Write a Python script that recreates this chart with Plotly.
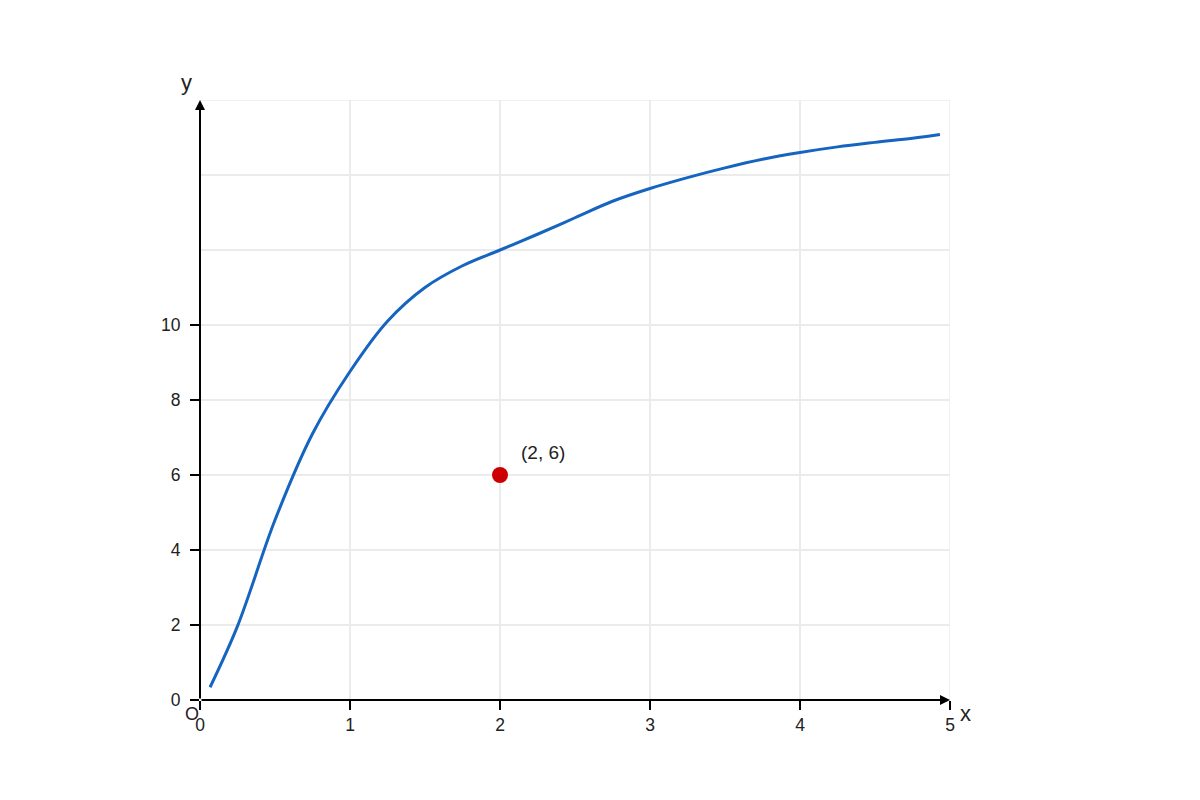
import plotly.graph_objects as go

# curve
curve_x = [0.067, 0.25, 0.5, 0.75, 1.0, 1.25, 1.5, 1.75, 2.0, 2.25, 2.5,
           2.75, 3.0, 3.25, 3.5, 3.75, 4.0, 4.25, 4.5, 4.75, 4.933]
curve_y = [0.34, 1.97, 4.8, 7.1, 8.76, 10.1, 11.0, 11.58, 12.0, 12.42, 12.86,
           13.3, 13.64, 13.93, 14.19, 14.42, 14.6, 14.75, 14.87, 14.98, 15.08]

# highlighted point
point_x = [2]
point_y = [6]
point_label = "(2, 6)"

x_ticks = [0, 1, 2, 3, 4, 5]
y_ticks = [0, 2, 4, 6, 8, 10]
y_extra_grid = [12, 14, 16]

fig = go.Figure()

fig.add_trace(go.Scatter(
    x=curve_x, y=curve_y, mode="lines",
    line=dict(color="#1565c0", width=3, shape="spline", smoothing=1.0),
    hoverinfo="skip", showlegend=False,
))

fig.add_trace(go.Scatter(
    x=point_x, y=point_y, mode="markers",
    marker=dict(color="#cc0000", size=16),
    showlegend=False,
))

grid = "#ebebeb"
# the page adds an 8px body margin, so the plot area is pulled up/left by 8px
fig.update_layout(
    width=1200, height=800,
    margin=dict(l=192, r=258, t=92, b=108),
    plot_bgcolor="white", paper_bgcolor="white",
    font=dict(family="Liberation Sans, Arial, sans-serif", size=17, color="#222"),
    xaxis=dict(
        range=[0, 5], tickvals=x_ticks, showgrid=True, gridcolor=grid, gridwidth=1.5,
        zeroline=False, showline=False, ticks="outside", ticklen=9, tickwidth=2,
        tickcolor="black", tickfont=dict(size=17.5),
    ),
    yaxis=dict(
        range=[0, 16], tickvals=y_ticks, showgrid=True, gridcolor=grid, gridwidth=1.5,
        zeroline=False, showline=False, ticks="outside", ticklen=9, tickwidth=2,
        tickcolor="black", tickfont=dict(size=17.5), ticklabelstandoff=6,
        minor=dict(tickvals=y_extra_grid, showgrid=True, gridcolor=grid, gridwidth=1.5, ticks=""),
    ),
)

# light frame around the plot area
fig.add_shape(type="rect", xref="x", yref="y", x0=0, x1=5, y0=0, y1=16,
              line=dict(color=grid, width=1.5), layer="below")

# axis arrows
fig.add_annotation(x=5, y=0, ax=0, ay=0, xref="x", yref="y", axref="x", ayref="y",
                   showarrow=True, arrowhead=2, arrowsize=1, arrowwidth=2,
                   arrowcolor="black", text="")
fig.add_annotation(x=0, y=16, ax=0, ay=0, xref="x", yref="y", axref="x", ayref="y",
                   showarrow=True, arrowhead=2, arrowsize=1, arrowwidth=2,
                   arrowcolor="black", text="")

# axis names and origin
fig.add_annotation(x=5, y=0, xref="x", yref="y", text="x", showarrow=False,
                   xshift=15, yshift=-13, font=dict(size=22, color="#222"))
fig.add_annotation(x=0, y=16, xref="x", yref="y", text="y", showarrow=False,
                   xshift=-14, yshift=18, font=dict(size=22, color="#222"))
fig.add_annotation(x=0, y=0, xref="x", yref="y", text="O", showarrow=False,
                   xshift=-8, yshift=-14, font=dict(size=18, color="#222"))

# point label
fig.add_annotation(x=point_x[0], y=point_y[0], xref="x", yref="y", text=point_label,
                   showarrow=False, xshift=43, yshift=23, font=dict(size=19, color="#222"))

fig.write_html("out.html")
